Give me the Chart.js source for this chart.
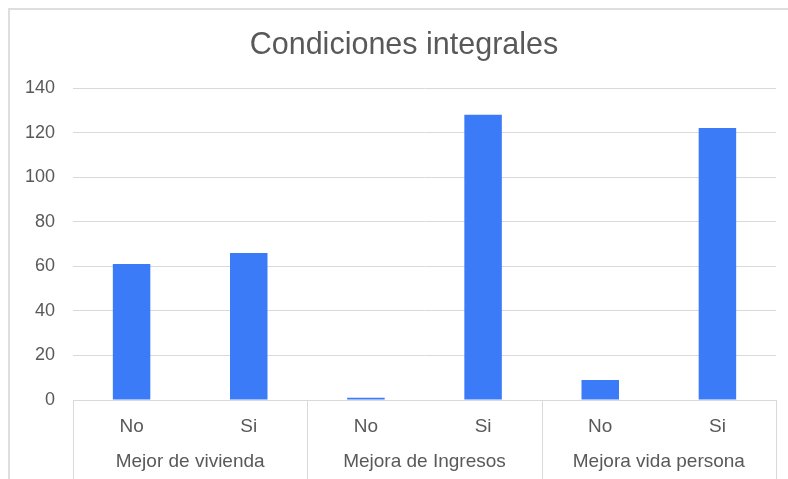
<!DOCTYPE html>
<html>
<head>
<meta charset="utf-8">
<script src="https://cdn.jsdelivr.net/npm/chart.js@4"></script>
<style>
  html, body { margin: 0; padding: 0; background: #ffffff; }
  #wrap { position: relative; width: 788px; height: 479px; overflow: hidden; }
  #frame { position: absolute; left: 8px; top: 8px; width: 900px; height: 600px;
           border-left: 2px solid #dedede; border-top: 2px solid #dedede; pointer-events: none; }
  #title { position: absolute; left: 0; top: 25px; width: 808px; text-align: center;
           font-family: 'Liberation Sans', Arial, Helvetica, sans-serif; font-size: 30.5px;
           line-height: 36px; color: #595959; white-space: nowrap; }
  canvas { position: absolute; left: 0; top: 0; }
</style>
</head>
<body>
<div id="wrap">
  <canvas id="c" width="788" height="479"></canvas>
  <div id="title"></div>
  <div id="frame"></div>
</div>
<script>
const titleText = "Condiciones integrales";
const subCategories = ["No", "Si", "No", "Si", "No", "Si"];
const groupLabels = ["Mejor de vivienda", "Mejora de Ingresos", "Mejora vida persona"];
const values = [61, 66, 1, 128, 9, 122];
const yTicks = [0, 20, 40, 60, 80, 100, 120, 140];

const textColor = "#595959";
const gridColor = "#d9d9d9";
const barColor = "#3c7bf8";
const fontFamily = "'Liberation Sans', Arial, Helvetica, sans-serif";

document.getElementById("title").textContent = titleText;

const separatorPlugin = {
  id: "groupSeparators",
  afterDraw(chart) {
    const x = chart.scales.x;
    const ctx = chart.ctx;
    const step = x.getPixelForValue(1) - x.getPixelForValue(0);
    const perGroup = subCategories.length / groupLabels.length;
    ctx.save();
    ctx.strokeStyle = gridColor;
    ctx.lineWidth = 1;
    for (let i = 0; i <= subCategories.length; i += perGroup) {
      const px = Math.round(x.getPixelForValue(i) - step / 2) + 0.5;
      ctx.beginPath();
      ctx.moveTo(px, x.top);
      ctx.lineTo(px, chart.height);
      ctx.stroke();
    }
    ctx.restore();
  }
};

new Chart(document.getElementById("c"), {
  type: "bar",
  data: {
    labels: subCategories,
    datasets: [{
      data: values,
      backgroundColor: barColor,
      borderWidth: 0,
      categoryPercentage: 1.0,
      barPercentage: 0.32
    }]
  },
  options: {
    responsive: false,
    animation: false,
    devicePixelRatio: 1,
    layout: { padding: { left: 0, right: 12, top: 88, bottom: 0 } },
    plugins: {
      legend: { display: false },
      tooltip: { enabled: false },
      title: { display: false }
    },
    scales: {
      x: {
        type: "category",
        position: "bottom",
        offset: true,
        grid: { display: false },
        border: { display: true, color: gridColor, width: 1 },
        ticks: {
          color: textColor,
          font: { family: fontFamily, size: 19 },
          padding: 7,
          maxRotation: 0,
          autoSkip: false
        },
        afterFit(scale) { scale.height = 40; }
      },
      x2: {
        type: "category",
        position: "bottom",
        labels: groupLabels,
        offset: true,
        grid: { display: false },
        border: { display: false },
        ticks: {
          color: textColor,
          font: { family: fontFamily, size: 19 },
          padding: 2,
          maxRotation: 0,
          autoSkip: false
        },
        afterFit(scale) { scale.height = 39; }
      },
      y: {
        min: 0,
        max: 140,
        grid: { color: gridColor, lineWidth: 1, drawTicks: false },
        border: { display: false },
        afterBuildTicks(scale) { scale.ticks = yTicks.map(v => ({ value: v })); },
        ticks: {
          color: textColor,
          font: { family: fontFamily, size: 18 },
          padding: 18
        },
        afterFit(scale) { scale.width = 73; }
      }
    }
  },
  plugins: [separatorPlugin]
});
</script>
</body>
</html>
